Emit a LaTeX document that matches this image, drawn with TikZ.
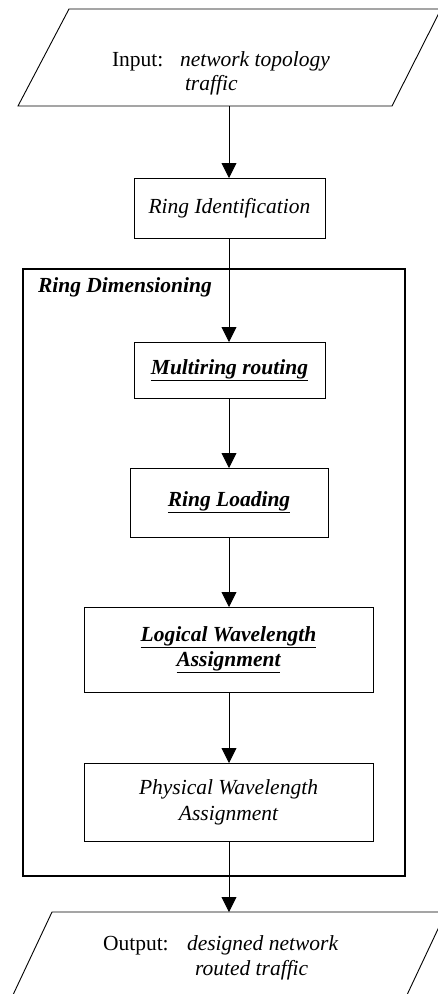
\documentclass[tikz,border=0pt]{standalone}
\usepackage{fontspec}
\setmainfont{Liberation Serif}
\usetikzlibrary{arrows.meta}
\begin{document}
\begin{tikzpicture}[x=1bp,y=-1bp,
  every node/.style={inner sep=0pt,outer sep=0pt,font=\fontsize{21.5bp}{26bp}\selectfont},
  box/.style={draw,line width=0.9bp,rectangle,align=center},
  frame/.style={draw,line width=1.8bp},
  io/.style={draw,line width=0.9bp},
  arr/.style={line width=0.9bp,-{Triangle[length=15bp,width=15bp]}},
  line/.style={line width=0.9bp}]
\useasboundingbox (0,0) rectangle (438,994);
\begin{scope}
\clip (0,0) rectangle (438,994);
% input parallelogram
\draw[io] (69,9) -- (441,9) -- (392,106) -- (18,106) -- cycle;
\node[anchor=base west] (inlab) at (112,66) {Input:};
\node[anchor=base west] (inl1) at (180,66) {\itshape network topology};
\node[anchor=base west] (inl2) at (185,90) {\itshape traffic};
\coordinate (inbot) at (229,106);
% output parallelogram
\draw[io] (52,912) -- (446,912) -- (398,1014) -- (4,1014) -- cycle;
\node[anchor=base west] (outlab) at (103,950) {Output:};
\node[anchor=base west] (outl1) at (187,950) {\itshape designed network};
\node[anchor=base west] (outl2) at (195,975) {\itshape routed traffic};
\coordinate (outtop) at (229,912);
\end{scope}
% ring dimensioning frame
\draw[frame] (23,269) rectangle (405,876);
\node[anchor=base west] (dimlab) at (38,292) {\bfseries\itshape Ring Dimensioning};
% boxes
\node[box,minimum width=191bp,minimum height=60bp] (ringid) at (229.5,208) {\itshape Ring Identification};
\node[box,minimum width=191bp,minimum height=56bp] (multi) at (229.5,370) {\bfseries\itshape\underline{Multiring routing}};
\node[box,minimum width=198bp,minimum height=69bp] (load) at (229,502.5) {\bfseries\itshape\underline{Ring Loading}};
\node[box,minimum width=289bp,minimum height=85bp] (logic) at (228.5,649.5) {\bfseries\itshape\underline{Logical Wavelength}\\[-1bp]\bfseries\itshape\underline{Assignment}};
\node[box,minimum width=289bp,minimum height=78bp] (phys) at (228.5,802) {\itshape Physical Wavelength\\\itshape Assignment};
% connectors
\draw[arr] (inbot) -- (ringid.north -| inbot);
\draw[arr] (ringid.south -| inbot) -- (multi.north -| inbot);
\draw[arr] (multi.south -| inbot) -- (load.north -| inbot);
\draw[arr] (load.south -| inbot) -- (logic.north -| inbot);
\draw[arr] (logic.south -| inbot) -- (phys.north -| inbot);
\draw[arr] (phys.south -| inbot) -- (outtop);
\end{tikzpicture}
\end{document}
